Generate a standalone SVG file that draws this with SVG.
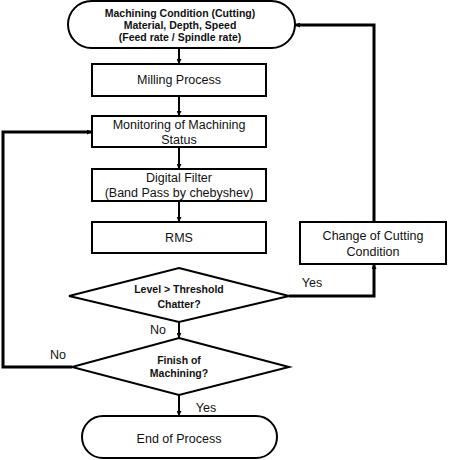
<svg xmlns="http://www.w3.org/2000/svg" width="449" height="460" viewBox="0 0 449 460">
<defs>
<marker id="ah" viewBox="0 0 10 10" refX="10" refY="5" markerWidth="5" markerHeight="5" orient="auto" markerUnits="userSpaceOnUse"><path d="M0,0 L10,5 L0,10 z" fill="#000"/></marker>
</defs>
<style>
.s{fill:#fff;stroke:#000;stroke-width:2}
.t{font-family:"Liberation Sans","Noto Sans",sans-serif;font-size:12.5px;fill:#111;text-anchor:middle}
.b{font-family:"Liberation Sans","Noto Sans",sans-serif;font-size:10.5px;font-weight:bold;fill:#111;text-anchor:middle}
.c{fill:none;stroke:#000;stroke-width:2;marker-end:url(#ah)}
.c2{fill:none;stroke:#000;stroke-width:3;marker-end:url(#ah)}
</style>
<rect width="449" height="460" fill="#fff"/>
<g id="connectors">
<path class="c" d="M179,48 V64"/>
<path class="c" d="M179,96 V116"/>
<path class="c" d="M179,147 V169"/>
<path class="c" d="M179,201 V222"/>
<path class="c" d="M179,321 V338"/>
<path class="c" d="M179,395 V416"/>
<path class="c2" d="M289,296 H374 V264"/>
<path class="c2" d="M374,222 V25 H295"/>
<path class="c2" d="M72,367 H3 V132 H92"/>
<text class="t" x="312" y="287">Yes</text>
<text class="t" x="158" y="334">No</text>
<text class="t" x="58" y="359">No</text>
<text class="t" x="206" y="412">Yes</text>
</g>
<g id="start">
<rect class="s" x="68" y="1" width="227" height="47" rx="23.5"/>
<text class="b" x="180" y="17">Machining Condition (Cutting)</text>
<text class="b" x="180" y="29">Material, Depth, Speed</text>
<text class="b" x="180" y="41">(Feed rate / Spindle rate)</text>
</g>
<g id="milling">
<rect class="s" x="92" y="64" width="174" height="32"/>
<text class="t" x="179" y="84">Milling Process</text>
</g>
<g id="monitoring">
<rect class="s" x="92" y="116" width="174" height="31"/>
<text class="t" x="179" y="129">Monitoring of Machining</text>
<text class="t" x="179" y="144">Status</text>
</g>
<g id="filter">
<rect class="s" x="92" y="169" width="174" height="32"/>
<text class="t" x="179" y="182">Digital Filter</text>
<text class="t" x="179" y="197">(Band Pass by chebyshev)</text>
</g>
<g id="rms">
<rect class="s" x="92" y="222" width="174" height="31"/>
<text class="t" x="179" y="242">RMS</text>
</g>
<g id="change">
<rect class="s" x="300" y="222" width="146" height="42"/>
<text class="t" x="373" y="240">Change of Cutting</text>
<text class="t" x="373" y="256">Condition</text>
</g>
<g id="threshold">
<polygon class="s" points="179,268 289,296 179,322 69,296"/>
<text class="b" x="179" y="293">Level &gt; Threshold</text>
<text class="b" x="179" y="308">Chatter?</text>
</g>
<g id="finish">
<polygon class="s" points="179,338 289,367 179,395 72,367"/>
<text class="b" x="179" y="364">Finish of</text>
<text class="b" x="179" y="377">Machining?</text>
</g>
<g id="end">
<rect class="s" x="82" y="416" width="195" height="42" rx="21"/>
<text class="t" x="179" y="443">End of Process</text>
</g>
</svg>
